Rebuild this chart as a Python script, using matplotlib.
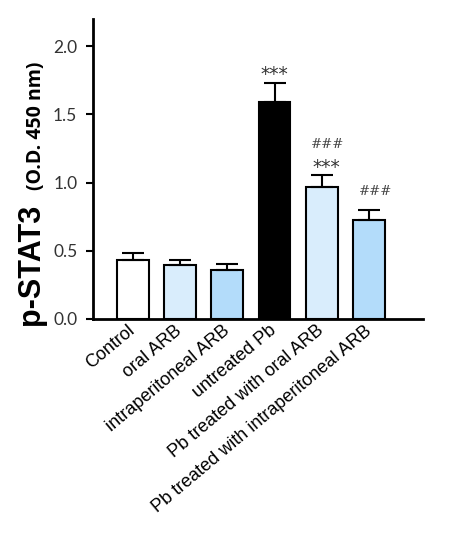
import numpy as np
import matplotlib
matplotlib.use("Agg")
import matplotlib.pyplot as plt

# data
groups = ["Control", "oral ARB", "intraperitoneal ARB", "untreated Pb",
          "Pb treated with oral ARB", "Pb treated with intraperitoneal ARB"]
means = [0.43, 0.395, 0.36, 1.59, 0.97, 0.727]
errs = [0.05, 0.035, 0.04, 0.14, 0.083, 0.073]
colors = ["#ffffff", "#d9edfc", "#b3dcfa", "#000000", "#d9edfc", "#b3dcfa"]
stars = ["", "", "", "***", "***", ""]
hashes = ["", "", "", "", "###", "###"]

fig = plt.figure(figsize=(4.7, 5.36), dpi=100)
ax = fig.add_axes([0.197, 0.405, 0.702, 0.5596])

x = np.arange(len(groups))
ax.bar(x, means, width=0.67, color=colors, edgecolor="black", linewidth=1.5,
       yerr=[np.zeros(len(errs)), errs],
       error_kw=dict(ecolor="black", elinewidth=1.5, capsize=8, capthick=1.5), zorder=2)

# significance marks
for i in range(len(groups)):
    top = means[i] + errs[i]
    if stars[i] != "":
        off = 0.0 if hashes[i] == "" else 0.1
        ax.text(x[i] + off, top + 0.02, stars[i], ha="center", va="baseline",
                fontsize=13.5, color="#333333", family="DejaVu Sans")
    if hashes[i] != "":
        yy = top + 0.11 if stars[i] == "" else top + 0.2
        ax.text(x[i] + 0.13, yy, hashes[i], ha="center", va="baseline",
                fontsize=9.5, color="#444444", style="italic", family="DejaVu Serif")

ax.set_xlim(-0.85, 6.13)
ax.set_ylim(0, 2.2)
ax.set_yticks([0.0, 0.5, 1.0, 1.5, 2.0])
ax.set_yticklabels(["0.0", "0.5", "1.0", "1.5", "2.0"], family="Lato", fontsize=12.5, color="#333333")
ax.set_xticks(x)
ax.set_xticklabels(groups, rotation=40, ha="right", va="center", rotation_mode="anchor",
                   family="Liberation Sans", fontsize=13)
ax.set_xticks([x[3]], minor=True)
ax.tick_params(axis="x", which="major", length=0, pad=7)
ax.tick_params(axis="x", which="minor", length=4, width=1.5)
ax.tick_params(axis="y", length=5, width=1.5, pad=6)

ax.spines["top"].set_visible(False)
ax.spines["right"].set_visible(False)
ax.spines["left"].set_linewidth(2)
ax.spines["bottom"].set_linewidth(2)

# y label in two parts
fig.text(31 / 470, 1 - 264 / 536, "p-STAT3", rotation=90, ha="center", va="center",
         fontsize=22, fontweight="bold", family="Liberation Sans")
fig.text(36 / 470, 1 - 126 / 536, "(O.D. 450 nm)", rotation=90, ha="center", va="center",
         fontsize=14, fontweight="bold", family="Open Sans")

fig.savefig("out.png", dpi=100)
